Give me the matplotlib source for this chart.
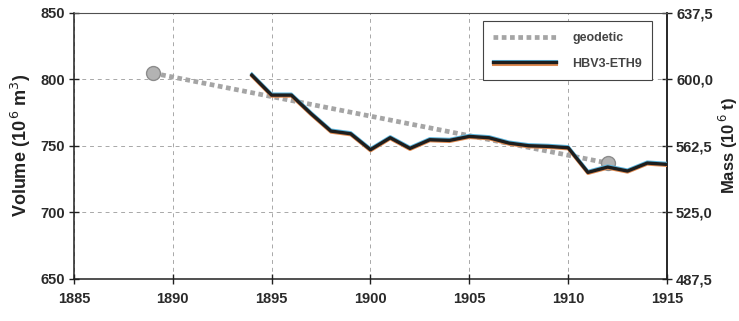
import numpy as np
import matplotlib
matplotlib.use('Agg')
import matplotlib.pyplot as plt
import matplotlib.patheffects as pe
from matplotlib.ticker import FixedLocator, FuncFormatter

plt.rcParams['font.family'] = ['Liberation Sans', 'DejaVu Sans']

# modelled ice volume (HBV3-ETH9), 10^6 m3
years = [1894, 1895, 1896, 1897, 1898, 1899, 1900, 1901, 1902, 1903, 1904,
         1905, 1906, 1907, 1908, 1909, 1910, 1911, 1912, 1913, 1914, 1915]
volume = [803, 788, 788, 774, 761, 759, 747, 756, 748, 754.5, 754,
          757, 756, 752, 750, 749.5, 748.5, 730, 734, 731, 737, 736]

# geodetic surveys
geo_years = [1889, 1912]
geo_volume = [804.5, 737]

RHO = 0.75   # t per m3 -> mass axis
vol_ticks = [650, 700, 750, 800, 850]
year_ticks = [1885, 1890, 1895, 1900, 1905, 1910, 1915]

fig = plt.figure(figsize=(7.39, 3.21), dpi=100)
fig.patch.set_facecolor('white')
ax = fig.add_axes([0.100, 0.131, 0.8026, 0.830])

ax.plot(geo_years, geo_volume, color='#a5a5a5', lw=3.4, ls=(0, (1.0, 0.75)),
        dash_capstyle='butt', label='geodetic', zorder=3)
ax.plot(geo_years, geo_volume, ls='none', marker='o', ms=10, mfc='#b3b3b3',
        mec='#8c8c8c', mew=1.0, zorder=3)

fx = [pe.Stroke(offset=(0, 0.8), linewidth=2.2, foreground='#5ab4dc'),
      pe.Stroke(offset=(0, -0.8), linewidth=2.2, foreground='#e08a50'),
      pe.Normal()]
ax.plot(years, volume, color='#1e1e1e', lw=2.4, label='HBV3-ETH9',
        path_effects=fx, zorder=4)

ax.set_xlim(1885, 1915)
ax.set_ylim(650, 850)
ax.xaxis.set_major_locator(FixedLocator(year_ticks))
ax.yaxis.set_major_locator(FixedLocator(vol_ticks))
ax.grid(True, color='#a8a8a8', lw=0.7, ls=(0, (4, 4)))
ax.set_axisbelow(True)

for s in ['left', 'bottom', 'right']:
    ax.spines[s].set_color('#202020'); ax.spines[s].set_linewidth(1.1)
ax.spines['top'].set_color('#505050'); ax.spines['top'].set_linewidth(0.8)
ax.tick_params(direction='inout', length=7, width=1.0, colors='#202020',
               labelsize=10.5, pad=3)
ax.tick_params(axis='x', pad=6)
for lb in ax.get_xticklabels() + ax.get_yticklabels():
    lb.set_fontweight('bold'); lb.set_color('#2a2a2a')

ax.set_ylabel('Volume (10$^{\\,6}$ m$^{3}$)', fontsize=13, fontweight='bold',
              color='#222222', labelpad=5)

sec = ax.secondary_yaxis('right', functions=(lambda v: v * RHO, lambda m: m / RHO))
sec.yaxis.set_major_locator(FixedLocator([v * RHO for v in vol_ticks]))
sec.yaxis.set_major_formatter(FuncFormatter(lambda m, p: f'{m:.1f}'.replace('.', ',')))
sec.tick_params(direction='inout', length=7, width=1.0, colors='#202020',
                labelsize=10.5, pad=3)
for lb in sec.get_yticklabels():
    lb.set_fontweight('bold'); lb.set_color('#2a2a2a')
sec.spines['right'].set_color('#202020'); sec.spines['right'].set_linewidth(1.1)
sec.set_ylabel('Mass (10$^{\\,6}$ t)', fontsize=12, fontweight='bold',
               color='#222222', labelpad=3)

leg = ax.legend(loc='upper right', bbox_to_anchor=(0.986, 0.99),
                handlelength=5.0, handletextpad=1.3, borderpad=0.85,
                labelspacing=1.1, fancybox=False, framealpha=1,
                edgecolor='#444444', prop={'weight': 'bold', 'size': 9})
leg.get_frame().set_linewidth(0.8)
for t in leg.get_texts():
    t.set_color('#444444')

fig.savefig('out.png', dpi=100, facecolor='white')
